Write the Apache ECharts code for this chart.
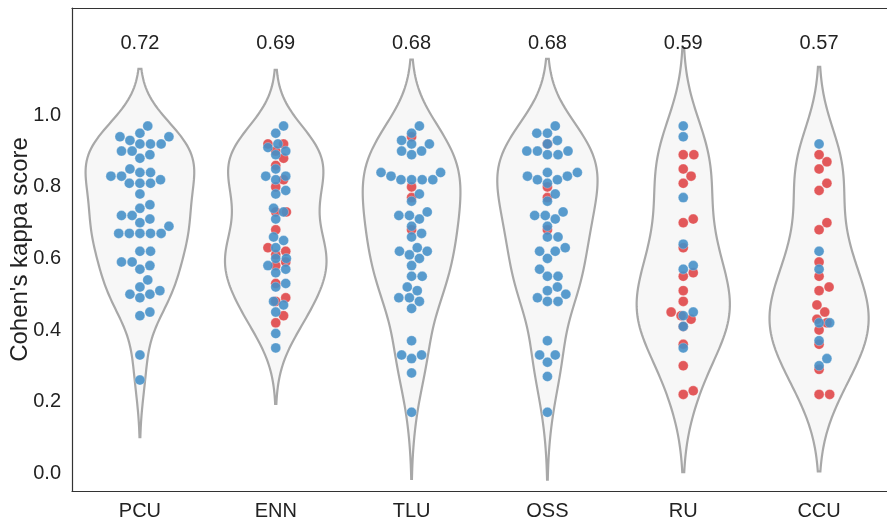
<!DOCTYPE html>
<html>
<head>
<meta charset="utf-8">
<script src="https://cdn.jsdelivr.net/npm/echarts@6/dist/echarts.min.js"></script>
<style>html,body{margin:0;padding:0;background:#fff;}#c{width:887px;height:520px;}</style>
</head>
<body>
<div id="c"></div>
<script>
// ---- data ----
const categories = ['PCU', 'ENN', 'TLU', 'OSS', 'RU', 'CCU'];
const meanLabels = ['0.72', '0.69', '0.68', '0.68', '0.59', '0.57'];
const yTicks = [0.0, 0.2, 0.4, 0.6, 0.8, 1.0];

const pcuBlue = [0.97,0.95,0.94,0.94,0.93,0.92,0.92,0.92,0.90,0.90,0.89,0.88,0.85,0.84,0.84,0.83,0.83,0.82,0.81,0.81,0.81,0.78,0.75,0.74,0.72,0.72,0.71,0.70,0.69,0.67,0.67,0.67,0.67,0.67,0.62,0.62,0.59,0.59,0.58,0.57,0.54,0.52,0.51,0.50,0.50,0.49,0.45,0.44,0.33,0.26];
const pcuRed = [];
const ennBlue = [0.97,0.95,0.92,0.91,0.90,0.89,0.85,0.83,0.83,0.82,0.79,0.78,0.73,0.74,0.71,0.66,0.65,0.63,0.60,0.60,0.58,0.57,0.56,0.53,0.52,0.47,0.48,0.45,0.39,0.35];
const ennRed = [0.92,0.92,0.90,0.88,0.86,0.82,0.80,0.73,0.73,0.68,0.63,0.62,0.61,0.59,0.58,0.53,0.49,0.48,0.44,0.42];
const tluBlue = [0.97,0.95,0.93,0.92,0.92,0.90,0.90,0.89,0.84,0.84,0.83,0.82,0.82,0.82,0.82,0.78,0.76,0.73,0.72,0.72,0.71,0.69,0.67,0.66,0.63,0.62,0.62,0.61,0.60,0.58,0.55,0.55,0.52,0.51,0.49,0.49,0.48,0.46,0.37,0.33,0.33,0.32,0.28,0.17];
const tluRed = [0.94,0.80,0.77,0.68];
const ossBlue = [0.97,0.95,0.95,0.93,0.92,0.90,0.89,0.89,0.90,0.90,0.84,0.83,0.84,0.82,0.82,0.83,0.81,0.78,0.76,0.73,0.71,0.72,0.72,0.69,0.66,0.66,0.63,0.62,0.62,0.60,0.57,0.55,0.55,0.52,0.51,0.50,0.48,0.48,0.49,0.37,0.33,0.33,0.31,0.27,0.17];
const ossRed = [0.92,0.80,0.77,0.68];
const ruBlue = [0.97,0.94,0.77,0.64,0.58,0.57,0.45,0.44,0.41,0.35];
const ruRed = [0.89,0.89,0.85,0.83,0.81,0.71,0.70,0.63,0.56,0.55,0.51,0.48,0.45,0.43,0.44,0.41,0.36,0.30,0.23,0.22];
const ccuBlue = [0.92,0.62,0.57,0.42,0.42,0.37,0.32,0.30];
const ccuRed = [0.89,0.87,0.85,0.81,0.79,0.70,0.68,0.59,0.55,0.52,0.51,0.47,0.45,0.43,0.42,0.40,0.36,0.29,0.22,0.22];

const blueGroups = [pcuBlue, ennBlue, tluBlue, ossBlue, ruBlue, ccuBlue];
const redGroups = [pcuRed, ennRed, tluRed, ossRed, ruRed, ccuRed];

// ---- layout constants ----
const GRID = {left: 72, right: 0, top: 8, bottom: 29};
const W = 887, H = 520;
const Y_MIN = -0.05, Y_MAX = 1.3;
const pxPerX = (W - GRID.left - GRID.right) / categories.length;
const pxPerY = (H - GRID.top - GRID.bottom) / (Y_MAX - Y_MIN);
const BLUE = '#4690c8', RED = '#df4a4c';

// ---- KDE (gaussian, Scott bandwidth, cut = 2) ----
function kde(vals) {
  const n = vals.length;
  const mean = vals.reduce((a, b) => a + b, 0) / n;
  const sd = Math.sqrt(vals.reduce((a, b) => a + (b - mean) * (b - mean), 0) / (n - 1));
  const bw = sd * Math.pow(n, -0.2);
  const lo = Math.min(...vals) - 2 * bw, hi = Math.max(...vals) + 2 * bw;
  const pts = [];
  const G = 120;
  for (let i = 0; i <= G; i++) {
    const y = lo + (hi - lo) * i / G;
    let d = 0;
    for (const v of vals) { const z = (y - v) / bw; d += Math.exp(-0.5 * z * z); }
    d /= (n * bw * Math.sqrt(2 * Math.PI));
    pts.push([y, d]);
  }
  return pts;
}
const kdes = categories.map((c, i) => kde(blueGroups[i].concat(redGroups[i])));
const maxDens = Math.max(...kdes.map(k => Math.max(...k.map(p => p[1]))));

// ---- beeswarm (pixel space), per hue group ----
function swarm(vals, diam) {
  const order = vals.map((v, i) => i).sort((a, b) => vals[a] - vals[b]);
  const placed = [];
  const off = new Array(vals.length).fill(0);
  for (const idx of order) {
    const y = vals[idx] * pxPerY;
    const nb = placed.filter(p => Math.abs(p.y - y) < diam);
    const cand = [0];
    for (const p of nb) {
      const dx = Math.sqrt(diam * diam - (p.y - y) * (p.y - y));
      cand.push(p.x + dx, p.x - dx);
    }
    cand.sort((a, b) => Math.abs(a) - Math.abs(b));
    let x = 0;
    for (const c of cand) {
      if (nb.every(p => Math.hypot(p.x - c, p.y - y) >= diam - 1e-6)) { x = c; break; }
    }
    placed.push({x: x, y: y});
    off[idx] = x;
  }
  return off;
}
function swarmData(groups) {
  const out = [];
  groups.forEach((vals, ci) => {
    const off = swarm(vals, 10.6);
    vals.forEach((v, k) => out.push([ci + off[k] / pxPerX, v]));
  });
  return out;
}

const chart = echarts.init(document.getElementById('c'), null, {renderer: 'canvas'});
const FONT = "'Liberation Sans', Arial, sans-serif";

chart.setOption({
  animation: false,
  grid: {left: GRID.left, right: GRID.right, top: GRID.top, bottom: GRID.bottom,
         containLabel: false, outerBoundsMode: 'none'},
  xAxis: [
    {
      type: 'category', data: categories, boundaryGap: true, position: 'bottom',
      axisLine: {show: true, onZero: false, lineStyle: {color: '#333', width: 1.2}},
      axisTick: {show: false},
      axisLabel: {color: '#222', fontSize: 20, fontFamily: FONT, margin: 10},
      splitLine: {show: false}
    },
    {
      type: 'value', min: -0.5, max: categories.length - 0.5, position: 'top',
      axisLine: {show: true, onZero: false, lineStyle: {color: '#333', width: 1.2}},
      axisTick: {show: false}, axisLabel: {show: false}, splitLine: {show: false}
    }
  ],
  yAxis: {
    type: 'value', min: Y_MIN, max: Y_MAX, position: 'left',
    name: "Cohen's kappa score", nameLocation: 'middle', nameGap: 40, nameMoveOverlap: false,
    nameTextStyle: {color: '#222', fontSize: 24, fontFamily: FONT},
    axisLine: {show: true, onZero: false, lineStyle: {color: '#333', width: 1.2}},
    axisTick: {show: false},
    splitLine: {show: false},
    axisLabel: {
      customValues: yTicks, color: '#222', fontSize: 20, fontFamily: FONT, margin: 11,
      formatter: v => Number(v).toFixed(1)
    }
  },
  series: [
    {
      type: 'custom', xAxisIndex: 1, yAxisIndex: 0, silent: true, z: 1,
      data: categories.map((c, i) => [i, 0]),
      renderItem: function (params, api) {
        const i = params.dataIndex;
        const k = kdes[i];
        const right = k.map(p => api.coord([i + p[1] / maxDens * 0.4, p[0]]));
        const left = k.slice().reverse().map(p => api.coord([i - p[1] / maxDens * 0.4, p[0]]));
        return {
          type: 'polygon',
          shape: {points: right.concat(left)},
          style: {fill: '#f7f7f7', stroke: '#a8a8a8', lineWidth: 2.2}
        };
      }
    },
    {
      type: 'scatter', xAxisIndex: 1, yAxisIndex: 0, silent: true, z: 2,
      symbolSize: 10, data: swarmData(redGroups),
      itemStyle: {color: RED, opacity: 0.92, borderColor: 'rgba(255,255,255,0.5)', borderWidth: 0.6}
    },
    {
      type: 'scatter', xAxisIndex: 1, yAxisIndex: 0, silent: true, z: 3,
      symbolSize: 10, data: swarmData(blueGroups),
      itemStyle: {color: BLUE, opacity: 0.9, borderColor: 'rgba(255,255,255,0.5)', borderWidth: 0.6}
    },
    {
      type: 'custom', xAxisIndex: 1, yAxisIndex: 0, silent: true, z: 4,
      data: categories.map((c, i) => [i, 1.2]),
      renderItem: function (params, api) {
        const p = api.coord([api.value(0), api.value(1)]);
        return {
          type: 'text',
          style: {
            text: meanLabels[params.dataIndex], x: p[0], y: p[1],
            fill: '#222', fontSize: 20, fontFamily: FONT,
            textAlign: 'center', textVerticalAlign: 'middle'
          }
        };
      }
    }
  ]
});
</script>
</body>
</html>
